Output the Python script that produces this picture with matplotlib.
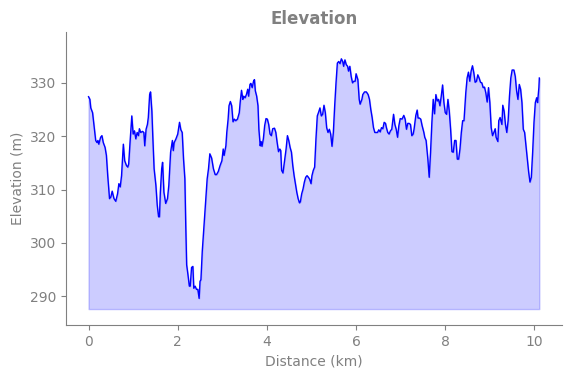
import matplotlib
matplotlib.use("Agg")
import matplotlib.pyplot as plt

# distance (km) and elevation (m)
distance_km = [
    0.00, 0.03, 0.05, 0.09, 0.12, 0.16, 0.19, 0.21, 0.23, 0.27, 0.30, 0.33, 0.37, 0.40,
    0.43, 0.47, 0.50, 0.53, 0.57, 0.61, 0.65, 0.68, 0.71, 0.74, 0.78, 0.81, 0.85, 0.88,
    0.90, 0.93, 0.97, 1.00, 1.03, 1.06, 1.09, 1.12, 1.14, 1.17, 1.21, 1.24, 1.26, 1.29,
    1.32, 1.34, 1.37, 1.39, 1.42, 1.44, 1.47, 1.51, 1.54, 1.57, 1.59, 1.61, 1.64, 1.66,
    1.69, 1.73, 1.77, 1.80, 1.84, 1.88, 1.90, 1.92, 1.96, 2.00, 2.04, 2.07, 2.10, 2.13,
    2.16, 2.18, 2.20, 2.23, 2.26, 2.28, 2.31, 2.34, 2.36, 2.39, 2.42, 2.45, 2.48, 2.50,
    2.52, 2.55, 2.59, 2.63, 2.66, 2.69, 2.72, 2.76, 2.80, 2.84, 2.87, 2.91, 2.95, 2.99,
    3.02, 3.04, 3.08, 3.10, 3.13, 3.15, 3.18, 3.21, 3.24, 3.27, 3.30, 3.34, 3.38,
    3.40, 3.43, 3.46, 3.48, 3.51, 3.54, 3.57, 3.59, 3.62, 3.64, 3.67, 3.70, 3.72, 3.74,
    3.77, 3.80, 3.82, 3.85, 3.87, 3.89, 3.92, 3.95, 3.98, 4.01, 4.04, 4.07, 4.10, 4.13,
    4.17, 4.20, 4.23, 4.26, 4.29, 4.31, 4.33, 4.36, 4.39, 4.43, 4.46, 4.49, 4.52, 4.55,
    4.58, 4.61, 4.64, 4.67, 4.70, 4.73, 4.75, 4.78, 4.81, 4.84, 4.87, 4.90, 4.93, 4.96,
    4.99, 5.01, 5.04, 5.07,
    5.10, 5.13, 5.16, 5.19, 5.22, 5.25, 5.28, 5.31, 5.34, 5.37, 5.40, 5.43, 5.46, 5.49,
    5.52, 5.55, 5.58, 5.61, 5.64, 5.67, 5.70, 5.72, 5.75, 5.78, 5.81, 5.83, 5.86, 5.89,
    5.92, 5.95, 5.98, 6.00, 6.04, 6.07, 6.09, 6.13, 6.15, 6.19, 6.23, 6.27, 6.30, 6.33,
    6.36, 6.39, 6.42, 6.45, 6.48, 6.51, 6.54, 6.57, 6.60, 6.63, 6.66, 6.68, 6.71, 6.74,
    6.77, 6.80,
    6.84, 6.87, 6.90, 6.93, 6.96, 6.99, 7.03, 7.07, 7.10, 7.13, 7.16, 7.19, 7.22, 7.25,
    7.28, 7.30, 7.34, 7.37, 7.39, 7.42, 7.45, 7.48, 7.52, 7.54, 7.57, 7.61, 7.64, 7.67,
    7.70, 7.73, 7.76, 7.79, 7.82, 7.85, 7.88, 7.91, 7.94, 7.97, 8.00, 8.03, 8.06, 8.09,
    8.12, 8.15, 8.18, 8.21, 8.24, 8.27, 8.30, 8.33, 8.36, 8.39, 8.42,
    8.46, 8.49, 8.52, 8.55, 8.58, 8.61, 8.64, 8.67, 8.70, 8.73, 8.76, 8.79, 8.82, 8.85,
    8.88, 8.91, 8.94, 8.97, 9.00, 9.03, 9.06, 9.09, 9.12, 9.14, 9.18, 9.20, 9.23, 9.27,
    9.29, 9.32, 9.35, 9.38, 9.41, 9.44, 9.47, 9.50, 9.54, 9.57, 9.60, 9.63, 9.66, 9.69,
    9.72, 9.75, 9.78, 9.81, 9.84, 9.87, 9.90, 9.93, 9.96, 9.99, 10.02, 10.05, 10.07,
    10.10, 10.11,
]
elevation_m = [
    327.4, 326.9, 325.3, 324.4, 322.2, 319.2, 318.8, 319.2, 318.5, 319.8, 320.1, 318.8, 317.9, 316.4,
    312.6, 308.3, 308.6, 309.7, 308.3, 307.8, 309.2, 311.1, 310.5, 312.6, 318.5, 315.4, 314.5, 314.2,
    314.8, 318.8, 323.8, 320.4, 321.0, 319.5, 320.7, 320.1, 321.4, 320.7, 320.9, 320.7, 318.2, 321.3,
    322.2, 323.5, 327.8, 328.3, 324.7, 320.1, 313.9, 310.8, 307.1, 304.9, 304.9, 309.5, 313.9, 315.1,
    309.5, 307.4, 308.3, 310.8, 317.0, 319.2, 317.3, 318.8, 319.5, 320.4, 322.6, 321.2, 320.7, 315.7,
    312.0, 303.3, 295.9, 294.0, 291.9, 291.9, 295.4, 295.6, 291.5, 291.9, 291.3, 291.3, 289.6, 292.8,
    293.1, 298.4, 303.3, 308.3, 312.0, 313.9, 316.7, 315.9, 313.9, 312.8, 312.8, 313.4, 314.5, 315.4,
    317.6, 316.4, 318.2, 320.7, 323.2, 325.7, 326.5, 325.7, 322.7, 323.2, 322.9, 323.2, 324.4,
    326.3, 328.6, 326.9, 327.5, 327.2, 327.8, 328.8, 327.5, 329.7, 329.9, 329.1, 330.3, 330.6, 328.5,
    327.5, 325.7, 321.3, 318.2, 319.0, 318.1, 319.5, 322.0, 323.3, 323.2, 322.2, 320.4, 320.1, 321.4,
    321.5, 320.7, 318.8, 317.1, 317.6, 317.3, 313.6, 313.1, 315.1, 317.6, 320.1, 319.2, 317.9, 317.0,
    314.5, 312.6, 311.1, 309.5, 308.3, 307.5, 307.7, 309.2, 310.1, 311.4, 312.3, 312.6, 312.3, 311.9,
    311.1, 312.6, 313.6, 314.2,
    319.5, 323.8, 324.5, 325.3, 323.8, 324.1, 325.8, 324.4, 321.6, 320.7, 321.3, 320.4, 318.1, 320.7,
    325.7, 330.0, 333.7, 334.0, 333.6, 334.5, 334.0, 333.1, 334.3, 333.4, 333.1, 332.2, 333.1, 331.2,
    330.0, 330.3, 330.3, 331.7, 330.6, 326.9, 326.0, 326.9, 327.8, 328.3, 328.3, 327.8, 326.9, 325.0,
    323.5, 321.6, 320.7, 320.7, 320.7, 321.2, 320.8, 321.6, 321.4, 322.6, 322.4, 321.6, 320.7, 320.4,
    321.0, 321.3,
    324.1, 322.2, 321.3, 319.8, 322.0, 323.3, 323.2, 323.9, 323.2, 321.3, 322.4, 322.4, 322.2, 320.1,
    320.4, 321.3, 323.9, 324.9, 323.4, 323.4, 323.2, 322.0, 320.7, 319.8, 319.2, 315.7, 312.3, 317.0,
    322.6, 326.9, 324.2, 327.8, 326.6, 326.9, 325.7, 327.5, 329.6, 326.3, 324.4, 324.1, 326.9, 324.7,
    321.3, 317.1, 317.0, 319.2, 319.2, 315.7, 315.7, 317.6, 320.7, 322.9, 322.9,
    328.1, 330.9, 332.0, 330.3, 332.2, 333.2, 331.9, 330.1, 330.3, 331.5, 330.9, 330.1, 330.0, 329.1,
    329.2, 328.1, 326.4, 329.1, 326.3, 321.6, 320.1, 320.7, 321.4, 319.8, 319.0, 322.9, 323.5, 322.2,
    325.8, 324.7, 322.2, 320.7, 322.9, 327.5, 330.9, 332.4, 332.4, 331.2, 328.5, 326.9, 329.7, 328.8,
    326.3, 321.3, 320.7, 318.2, 315.7, 313.3, 311.4, 312.3, 317.0, 322.6, 326.3, 327.2, 326.3,
    329.1, 330.9,
]

fig = plt.figure(figsize=(5.71, 3.78), dpi=100)
ax = fig.add_axes([0.1156, 0.140, 0.8684, 0.775])

base = min(elevation_m) - 2
ax.fill_between(distance_km, elevation_m, base, color='blue', alpha=0.2)
ax.plot(distance_km, elevation_m, color='blue', linewidth=1)

ax.set_ylim(min(elevation_m) - 5, max(elevation_m) + 5)

ax.set_title('Elevation', fontsize=12, fontweight='bold', color='gray')
ax.set_xlabel('Distance (km)', color='gray')
ax.set_ylabel('Elevation (m)', color='gray')

ax.spines['top'].set_visible(False)
ax.spines['right'].set_visible(False)
ax.spines['left'].set_color('gray')
ax.spines['bottom'].set_color('gray')
ax.tick_params(colors='gray')

plt.savefig('out.png')
